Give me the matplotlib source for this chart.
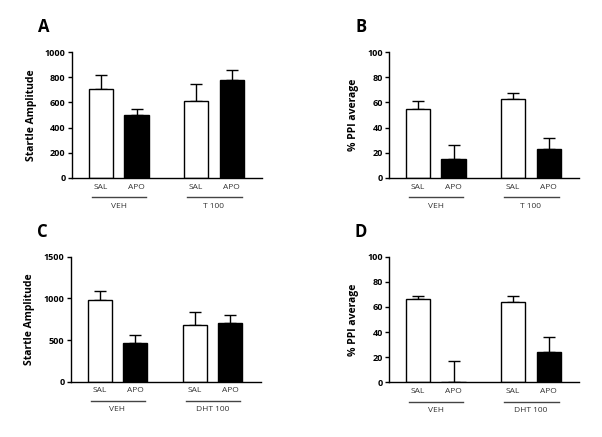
import numpy as np
import matplotlib
matplotlib.use("Agg")
import matplotlib.pyplot as plt

plt.rcParams['font.family'] = ['Open Sans', 'DejaVu Sans']

# data
drugs = ["SAL", "APO", "SAL", "APO"]
groups_top = ["VEH", "T 100"]
groups_bottom = ["VEH", "DHT 100"]

startle_t = [708, 497, 613, 775]
startle_t_err = [110, 48, 133, 82]
ppi_t = [54.5, 15, 63, 23]
ppi_t_err = [6.5, 11, 4.6, 8.5]

startle_dht = [984, 468, 684, 704]
startle_dht_err = [108, 92, 149, 96]
ppi_dht = [66, 0, 64, 24.4]
ppi_dht_err = [2.7, 17.2, 4.7, 11.9]

pos = np.array([1, 2, 3.68, 4.68])
fills = ["white", "black", "white", "black"]


def panel(ax, vals, errs, groups, ylabel, ymax, yticks, letter):
    ax.bar(pos, vals, width=0.68, color=fills, edgecolor="black", linewidth=1.0, zorder=2)
    ax.errorbar(pos, vals, yerr=[np.zeros(len(errs)), errs], fmt="none",
                ecolor="black", elinewidth=1.0, capsize=4.5, capthick=1.0, zorder=1)
    ax.set_xlim(0.183, 5.535)
    ax.set_ylim(0, ymax)
    ax.set_yticks(yticks)
    ax.set_xticks(pos)
    ax.set_xticklabels(drugs, fontsize=6, color="#333333")
    ax.tick_params(axis="x", length=0, pad=4)
    ax.tick_params(axis="y", length=3, width=1, pad=1.5, labelsize=6.5)
    for t in ax.get_yticklabels():
        t.set_fontweight("bold")
    ax.spines["top"].set_visible(False)
    ax.spines["right"].set_visible(False)
    ax.spines["left"].set_linewidth(1)
    ax.spines["bottom"].set_linewidth(1)
    ax.set_ylabel(ylabel, fontsize=7.5, fontweight="bold", labelpad=6)
    tr = ax.get_xaxis_transform()
    for i, g in enumerate(groups):
        a, b = pos[2 * i], pos[2 * i + 1]
        ax.plot([a - 0.25, b + 0.28], [-0.153, -0.153], transform=tr, color="#444444",
                lw=1.0, clip_on=False)
        ax.text((a + b) / 2, -0.226, g, transform=tr, ha="center", va="center",
                fontsize=6, color="#333333")
    ax.text(-0.147, 1.2, letter, transform=ax.transAxes, fontsize=12, fontweight="bold",
            ha="center", va="center")


fig = plt.figure(figsize=(6.02, 4.37), dpi=100)
axA = fig.add_axes([0.1196, 0.5927, 0.3156, 0.2883])
axB = fig.add_axes([0.6462, 0.5927, 0.3156, 0.2883])
axC = fig.add_axes([0.1174, 0.1265, 0.3156, 0.286])
axD = fig.add_axes([0.6462, 0.1252, 0.3156, 0.2874])

panel(axA, startle_t, startle_t_err, groups_top, "Startle Amplitude", 1000,
      [0, 200, 400, 600, 800, 1000], "A")
panel(axB, ppi_t, ppi_t_err, groups_top, "% PPI average", 100,
      [0, 20, 40, 60, 80, 100], "B")
panel(axC, startle_dht, startle_dht_err, groups_bottom, "Startle Amplitude", 1500,
      [0, 500, 1000, 1500], "C")
panel(axD, ppi_dht, ppi_dht_err, groups_bottom, "% PPI average", 100,
      [0, 20, 40, 60, 80, 100], "D")

fig.savefig("out.png", dpi=100)
